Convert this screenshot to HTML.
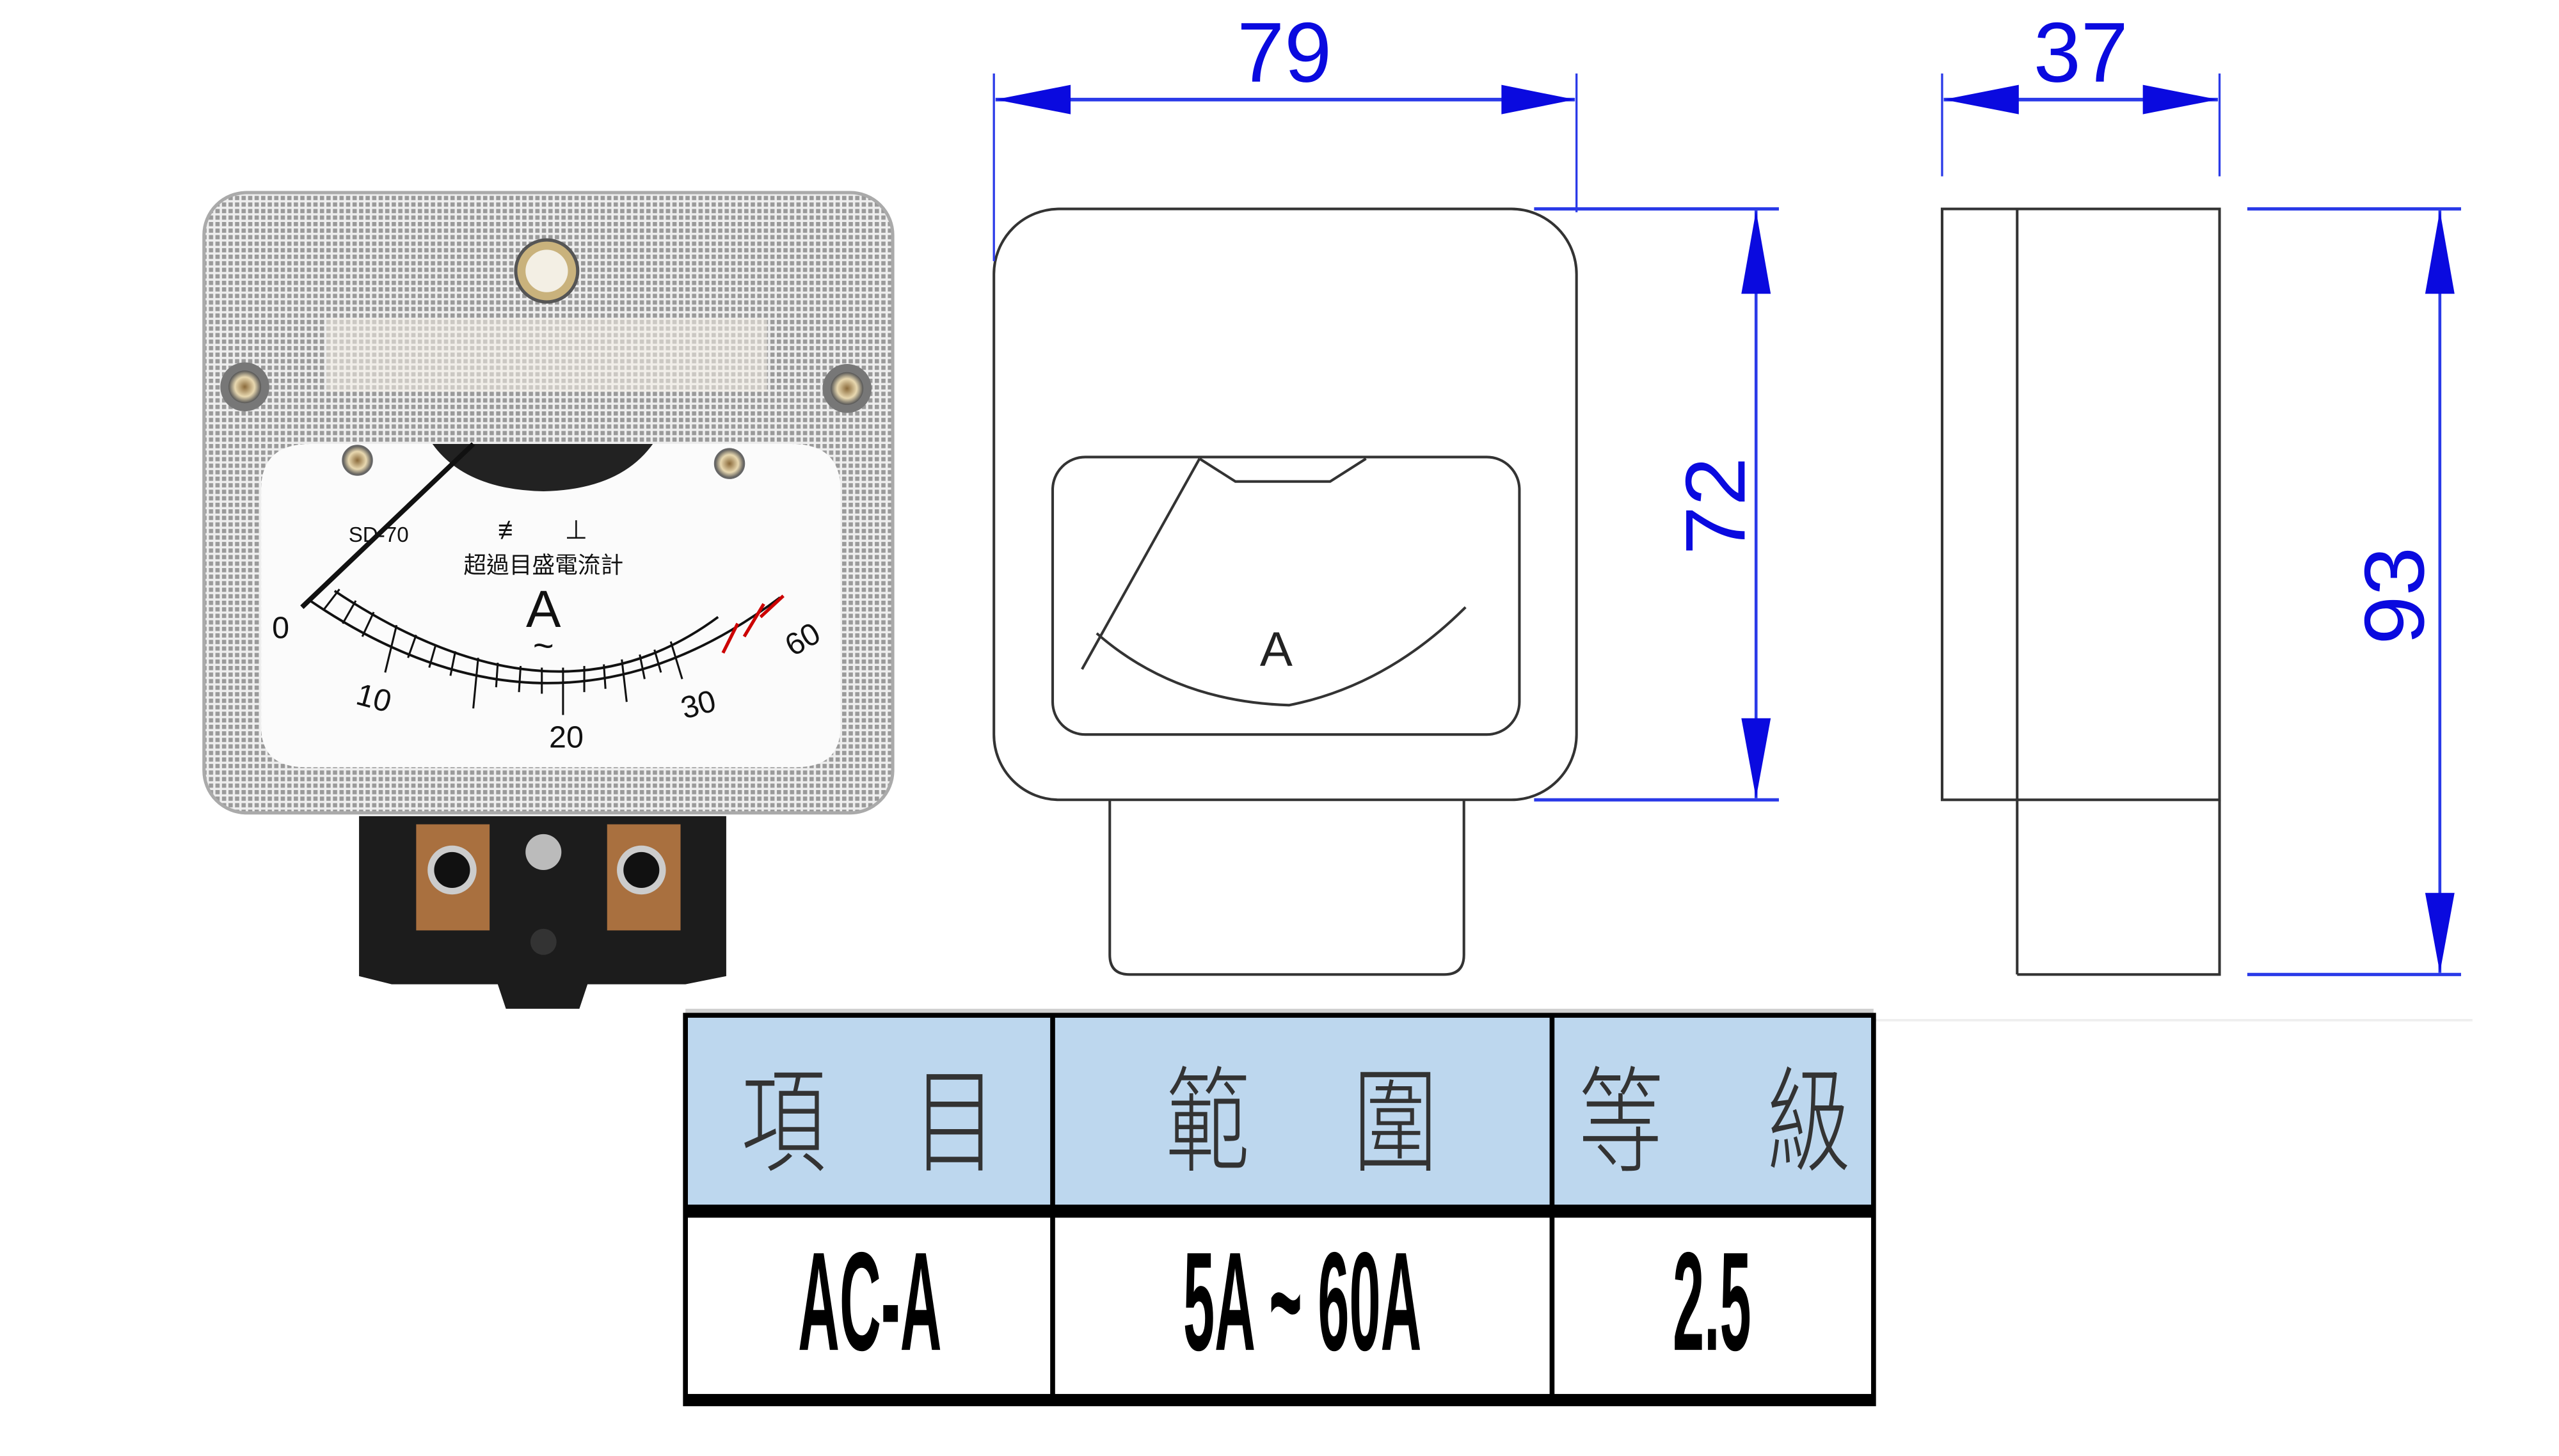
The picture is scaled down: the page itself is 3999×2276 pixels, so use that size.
<!DOCTYPE html>
<html><head><meta charset="utf-8"><style>html,body{margin:0;padding:0;background:#fff}svg{display:block}</style></head>
<body>
<svg width="3999" height="2276" viewBox="0 0 1568 892" preserveAspectRatio="none" xmlns="http://www.w3.org/2000/svg">
<defs>
<pattern id="grid" width="4" height="4" patternUnits="userSpaceOnUse">
<rect width="4" height="4" fill="#eeeeee"/><rect width="2.6" height="2.6" fill="#9a9a9a"/>
</pattern>
<radialGradient id="scr"><stop offset="0" stop-color="#8a6a3a"/><stop offset="0.6" stop-color="#e8d8b0"/><stop offset="1" stop-color="#555"/></radialGradient>
</defs>
<rect width="1568" height="892" fill="#fff"/>

<!-- ===== meter photo ===== -->
<rect x="125" y="118" width="422" height="380" rx="26" fill="url(#grid)" stroke="#aaa" stroke-width="2"/>
<rect x="200" y="195" width="270" height="45" fill="#f4efe6" opacity="0.55"/>
<circle cx="335" cy="166" r="19" fill="#c9b27c" stroke="#555" stroke-width="2"/>
<circle cx="335" cy="166" r="13" fill="#f3efe4"/>
<circle cx="150" cy="237" r="15" fill="#777"/><circle cx="150" cy="237" r="10" fill="url(#scr)"/>
<circle cx="519" cy="238" r="15" fill="#777"/><circle cx="519" cy="238" r="10" fill="url(#scr)"/>
<path d="M160,300 Q160,272 190,272 L485,272 Q515,272 515,300 L515,445 Q515,470 488,470 L187,470 Q160,470 160,445 Z" fill="#fbfbfb"/>
<path d="M265,272 L400,272 Q380,300 333,301 Q285,300 265,272 Z" fill="#222"/>
<circle cx="219" cy="282" r="9" fill="url(#scr)" stroke="#666"/>
<circle cx="447" cy="284" r="9" fill="url(#scr)" stroke="#666"/>
<path d="M190,368 Q340,470 478,366" fill="none" stroke="#111" stroke-width="1.5"/>
<path d="M205,362 Q340,452 440,378" fill="none" stroke="#111" stroke-width="1.5"/>
<g stroke="#111" stroke-width="1.2">
<line x1="198" y1="374" x2="208" y2="361"/><line x1="210" y1="382" x2="218" y2="368"/><line x1="222" y1="390" x2="229" y2="375"/>
<line x1="236" y1="412" x2="243" y2="383"/><line x1="250" y1="403" x2="255" y2="389"/><line x1="263" y1="409" x2="267" y2="395"/>
<line x1="276" y1="414" x2="279" y2="399"/><line x1="290" y1="434" x2="293" y2="403"/><line x1="304" y1="421" x2="305" y2="406"/>
<line x1="318" y1="424" x2="319" y2="408"/><line x1="332" y1="425" x2="332" y2="409"/><line x1="345" y1="438" x2="345" y2="409"/>
<line x1="358" y1="424" x2="358" y2="408"/><line x1="371" y1="422" x2="370" y2="407"/><line x1="384" y1="430" x2="381" y2="404"/>
<line x1="395" y1="416" x2="392" y2="401"/><line x1="405" y1="412" x2="401" y2="398"/><line x1="418" y1="416" x2="411" y2="393"/>
</g>
<g stroke="#c00" stroke-width="2"><line x1="443" y1="400" x2="452" y2="382"/><line x1="456" y1="390" x2="468" y2="370"/><line x1="466" y1="378" x2="480" y2="365"/></g>
<line x1="185" y1="372" x2="290" y2="272" stroke="#111" stroke-width="3"/>
<g font-family="Liberation Sans, sans-serif" fill="#111" text-anchor="middle">
<text x="172" y="391" font-size="19">0</text>
<text x="229" y="434" font-size="19" transform="rotate(15 229 428)">10</text>
<text x="347" y="458" font-size="19">20</text>
<text x="428" y="438" font-size="19" transform="rotate(-15 428 432)">30</text>
<text x="492" y="398" font-size="19" transform="rotate(-30 492 392)">60</text>
<text x="232" y="332" font-size="13">SD-70</text>
<text x="313" y="330" font-size="16">≢</text><text x="353" y="330" font-size="16">⊥</text>
<text x="333" y="351" font-size="14" font-family="Liberation Sans, Noto Sans CJK TC, sans-serif">超過目盛電流計</text>
<text x="333" y="384" font-size="32">A</text>
<text x="333" y="403" font-size="22">~</text>
</g>
<path d="M220,500 L445,500 L445,598 L420,603 L360,603 L355,618 L310,618 L305,603 L240,603 L220,598 Z" fill="#1c1c1c"/>
<rect x="255" y="505" width="45" height="65" fill="#a9703f"/>
<rect x="372" y="505" width="45" height="65" fill="#a9703f"/>
<circle cx="277" cy="533" r="15" fill="#ccc"/><circle cx="277" cy="533" r="11" fill="#111"/>
<circle cx="393" cy="533" r="15" fill="#ccc"/><circle cx="393" cy="533" r="11" fill="#111"/>
<circle cx="333" cy="522" r="11" fill="#bbb"/>
<circle cx="333" cy="577" r="8" fill="#333"/>

<!-- ===== front view drawing ===== -->
<g fill="none" stroke="#333" stroke-width="1.6">
<rect x="609" y="128" width="357" height="362" rx="40"/>
<path d="M680,490 L680,585 Q680,597 692,597 L885,597 Q897,597 897,585 L897,490"/>
<rect x="645" y="280" width="286" height="170" rx="20"/>
<path d="M735,281 L757,295 L815,295 L837,281"/>
<path d="M735,281 L663,410"/>
<path d="M672,388 Q720,430 790,432 Q850,420 898,372"/>
<rect x="1190" y="128" width="170" height="362"/>
<line x1="1236" y1="128" x2="1236" y2="597"/>
<path d="M1236,597 L1360,597 L1360,490"/>
</g>
<text x="782" y="408" font-family="Liberation Sans, sans-serif" font-size="30" text-anchor="middle" fill="#222">A</text>

<g stroke="#2a3ae8" stroke-width="1.3" fill="none">
<line x1="609" y1="45" x2="609" y2="160"/><line x1="966" y1="45" x2="966" y2="130"/>
<line x1="610" y1="61" x2="965" y2="61" stroke-width="2.2"/>
<line x1="940" y1="128" x2="1090" y2="128" stroke-width="2"/><line x1="940" y1="490" x2="1090" y2="490" stroke-width="2"/>
<line x1="1076" y1="129" x2="1076" y2="489" stroke-width="1.8"/>
<line x1="1190" y1="45" x2="1190" y2="108"/><line x1="1360" y1="45" x2="1360" y2="108"/>
<line x1="1191" y1="61" x2="1359" y2="61" stroke-width="2.2"/>
<line x1="1377" y1="128" x2="1508" y2="128" stroke-width="2"/><line x1="1377" y1="597" x2="1508" y2="597" stroke-width="2"/>
<line x1="1495" y1="129" x2="1495" y2="596" stroke-width="1.8"/>
</g>
<g fill="#0a0adf">
<polygon points="610,61 656,52 656,70"/><polygon points="965,61 920,52 920,70"/>
<polygon points="1191,61 1237,52 1237,70"/><polygon points="1359,61 1313,52 1313,70"/>
<polygon points="1076,129 1067,180 1085,180"/><polygon points="1076,489 1067,440 1085,440"/>
<polygon points="1495,129 1486,180 1504,180"/><polygon points="1495,596 1486,547 1504,547"/>
</g>
<g font-family="Liberation Sans, sans-serif" fill="#0a0adf" text-anchor="middle" font-size="52">
<text x="787" y="50" textLength="58" lengthAdjust="spacingAndGlyphs">79</text>
<text x="1275" y="50" textLength="58" lengthAdjust="spacingAndGlyphs">37</text>
<text transform="translate(1069,310) rotate(-90)" textLength="60" lengthAdjust="spacingAndGlyphs">72</text>
<text transform="translate(1485,365) rotate(-90)" textLength="60" lengthAdjust="spacingAndGlyphs">93</text>
</g>

<line x1="1148" y1="625" x2="1515" y2="625" stroke="#eee" stroke-width="1.5"/>
<rect x="420" y="618" width="728" height="4" fill="#d0d0d0"/>
<rect x="420" y="622" width="728" height="117" fill="#bdd7ee"/>
<rect x="420" y="622" width="728" height="238" fill="none" stroke="#000" stroke-width="3"/>
<rect x="420" y="738" width="728" height="8" fill="#000"/>
<rect x="420" y="854" width="728" height="7" fill="#000"/>
<line x1="645" y1="622" x2="645" y2="856" stroke="#000" stroke-width="3"/>
<line x1="951" y1="622" x2="951" y2="856" stroke="#000" stroke-width="3"/>
<g font-family="Noto Sans CJK TC, sans-serif" font-weight="300" font-size="52" fill="#333" text-anchor="middle">
<g transform="translate(0,712) scale(1,1.35)">
<text x="480" y="0">項</text><text x="585" y="0">目</text>
<text x="740" y="0">範</text><text x="855" y="0">圍</text>
<text x="993" y="0">等</text><text x="1108" y="0">級</text>
</g>
</g>
<g font-family="Liberation Sans, sans-serif" font-weight="bold" font-size="86" fill="#000" text-anchor="middle">
<text x="533" y="827" textLength="88" lengthAdjust="spacingAndGlyphs">AC-A</text>
<text x="798" y="827" textLength="146" lengthAdjust="spacingAndGlyphs">5A ~ 60A</text>
<text x="1049" y="827" textLength="48" lengthAdjust="spacingAndGlyphs">2.5</text>
</g>
</svg>
</body></html>
